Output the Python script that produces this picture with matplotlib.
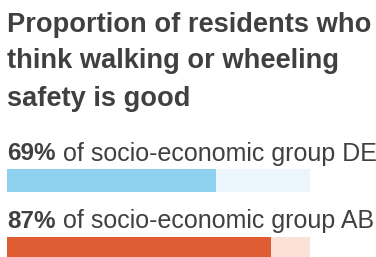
import matplotlib
matplotlib.use("Agg")
import matplotlib.pyplot as plt

W, H = 376, 257

title_lines = ["Proportion of residents who", "think walking or wheeling", "safety is good"]
groups = ["DE", "AB"]
values = [69, 87]
bar_colors = ["#8ed1ee", "#e05d33"]
track_colors = ["#eaf5fc", "#fce1d6"]

text_color = "#404040"
plt.rcParams["font.family"] = ["Liberation Sans", "DejaVu Sans"]

fig = plt.figure(figsize=(W / 100, H / 100), dpi=100)
fig.patch.set_facecolor("white")


def px(x, y):
    # pixel coords from top-left -> figure fraction
    return x / W, 1 - y / H


# title
title_baselines = [31.5, 68.5, 105.5]
for line, yb in zip(title_lines, title_baselines):
    fig.text(*px(7, yb), line, fontsize=19.6, fontweight="bold",
             color=text_color, va="baseline", ha="left")

renderer = fig.canvas.get_renderer()

label_baselines = [160.5, 228]
bar_tops = [169, 237]
bar_h = 23
for g, v, c, tc, yb, bt in zip(groups, values, bar_colors, track_colors,
                                label_baselines, bar_tops):
    t = fig.text(*px(7, yb), f"{v}%", fontsize=17.5, fontweight="bold",
                 color=text_color, va="baseline", ha="left")
    ext = t.get_window_extent(renderer)
    x1 = ext.x1 / fig.dpi * 100
    fig.text(*px(x1, yb), f" of socio-economic group {g}", fontsize=18,
             color=text_color, va="baseline", ha="left")

    l, b = px(7, bt + bar_h)
    ax = fig.add_axes([l, b, 303 / W, bar_h / H])
    ax.barh(0, 100, height=1, color=tc, linewidth=0)
    ax.barh(0, v, height=1, color=c, linewidth=0)
    ax.set_xlim(0, 100)
    ax.set_ylim(-0.5, 0.5)
    ax.axis("off")

fig.savefig("out.png", dpi=100, facecolor="white")
